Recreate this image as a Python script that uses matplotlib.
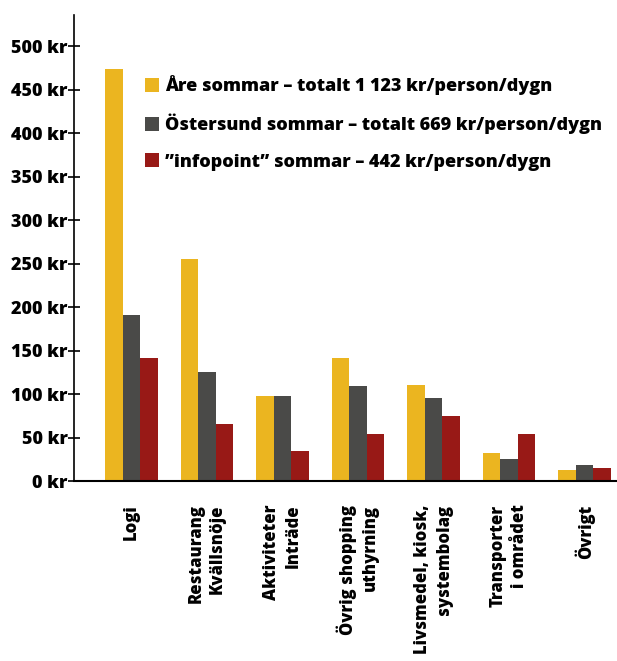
import numpy as np
import matplotlib
matplotlib.use('Agg')
import matplotlib.pyplot as plt

plt.rcParams['font.family'] = ['Open Sans', 'DejaVu Sans']
plt.rcParams['font.weight'] = 800

# kategorier och värden (kr/person/dygn)
categories = ['Logi', 'Restaurang\nKvällsnöje', 'Aktiviteter\nInträde',
              'Övrig shopping\nuthyrning', 'Livsmedel, kiosk,\nsystembolag',
              'Transporter\ni området', 'Övrigt']
are = [474, 255, 98, 141, 110, 32, 13]
ostersund = [191, 125, 98, 109, 95, 25, 18]
infopoint = [141, 65, 35, 54, 75, 54, 15]
series_labels = ['Åre sommar – totalt 1 123 kr/person/dygn',
                 'Östersund sommar – totalt 669 kr/person/dygn',
                 '”infopoint” sommar – 442 kr/person/dygn']
yticks = [0, 50, 100, 150, 200, 250, 300, 350, 400, 450, 500]

colors = ['#EBB520', '#4A4A48', '#981916']

fig = plt.figure(figsize=(6.17, 6.61), dpi=100)
ax = fig.add_axes([0.120, 0.2723, 0.880, 0.7047])

x = np.arange(len(categories))
w = 0.232
for i, (vals, c, lab) in enumerate(zip([are, ostersund, infopoint], colors, series_labels)):
    ax.bar(x + (i - 1) * w, vals, width=w, color=c, label=lab, zorder=2)

ax.set_xlim(-0.76, 6.43)
ax.set_ylim(0, 535.6)
ax.set_yticks(yticks)
ax.set_yticklabels(['%d kr' % v for v in yticks], fontsize=13, fontweight=800)
ax.tick_params(axis='y', direction='inout', length=9, width=1.2, pad=0)
ax.set_xticks(x)
ax.set_xticklabels(categories, rotation=90, fontsize=12, fontweight=800,
                   multialignment='right', va='top', ha='center', linespacing=1.35)
ax.tick_params(axis='x', length=0, pad=17)

for s in ['top', 'right']:
    ax.spines[s].set_visible(False)
ax.spines['left'].set_linewidth(1.2)
ax.spines['bottom'].set_linewidth(1.5)

leg = ax.legend(loc='upper left', bbox_to_anchor=(145 / 617, 1 - 75 / 661),
                bbox_transform=fig.transFigure, frameon=False,
                prop={'family': 'Open Sans', 'weight': 800, 'size': 13},
                handlelength=0.8, handleheight=0.8, handletextpad=0.3,
                labelspacing=1.05, borderpad=0, borderaxespad=0)

fig.savefig('out.png', dpi=100)
